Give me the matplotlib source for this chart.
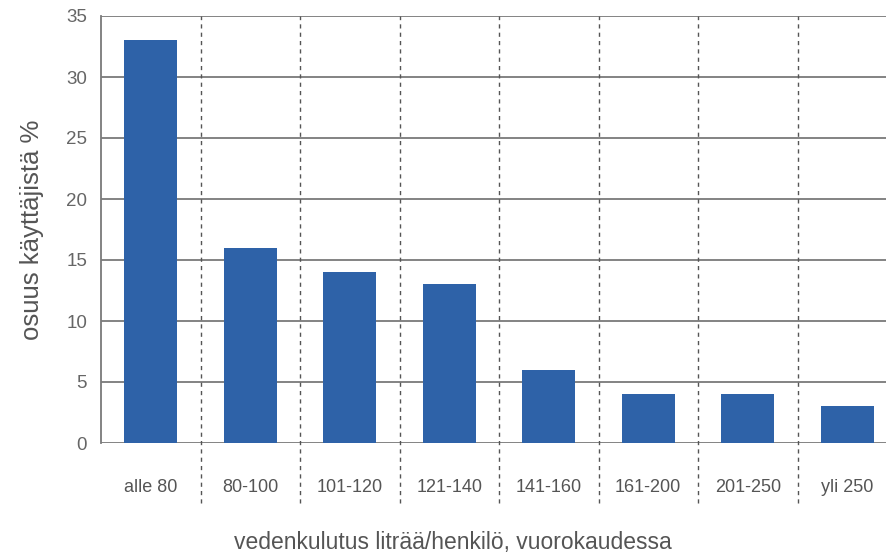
import matplotlib
matplotlib.use("Agg")
import matplotlib.pyplot as plt

categories = ["alle 80", "80-100", "101-120", "121-140", "141-160", "161-200", "201-250", "yli 250"]
values = [33, 16, 14, 13, 6, 4, 4, 3]
yticks = [0, 5, 10, 15, 20, 25, 30, 35]

plt.rcParams['font.family'] = ['Liberation Sans', 'DejaVu Sans']
fig = plt.figure(figsize=(8.86, 5.58), dpi=100)
ax = fig.add_axes([101/886, 1 - 443/558, 1 - 101/886, 427/558])

x = list(range(len(categories)))
ax.bar(x, values, width=0.53, color="#2e62a8", zorder=3)
ax.set_xlim(-0.5, -0.5 + 785/99.5)
ax.set_ylim(0, 35)
ax.set_yticks(yticks)
ax.set_yticklabels([str(v) for v in yticks], fontsize=13.5, color="#666666")
ax.yaxis.grid(True, color="#7a7a7a", linewidth=1.3, zorder=1)
ax.tick_params(axis='y', length=0, pad=10)
ax.set_xticks(x)
ax.set_xticklabels(categories, fontsize=13, color="#555555")
ax.tick_params(axis='x', length=0, pad=26)
for s in ["top", "right", "bottom"]:
    ax.spines[s].set_visible(False)
ax.spines["left"].set_color("#7a7a7a")
ax.spines["left"].set_linewidth(1.3)

for i in range(len(categories) - 1):
    ax.axvline(i + 0.5, ymin=-0.14, ymax=1, color="#555555", linestyle=(0, (3, 3)),
               linewidth=1.0, clip_on=False, zorder=2)

ax.set_ylabel("osuus käyttäjistä %", fontsize=18.5, color="#555555", labelpad=16)
ax.set_xlabel("vedenkulutus liträä/henkilö, vuorokaudessa", fontsize=16.5, color="#555555")
ax.xaxis.set_label_coords((453 - 101) / 785, -(531 - 443) / 427)

fig.savefig("out.png", dpi=100)
